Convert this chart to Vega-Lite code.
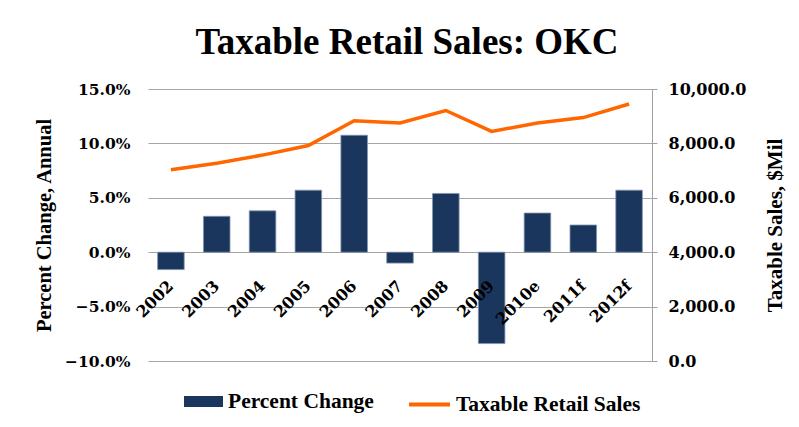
{
  "$schema": "https://vega.github.io/schema/vega-lite/v6.json",
  "width": 504,
  "height": 272,
  "autosize": {"type": "none"},
  "padding": {"left": 148, "top": 89, "right": 147, "bottom": 66},
  "background": "white",
  "title": {
    "text": "Taxable Retail Sales: OKC",
    "font": "Liberation Serif",
    "fontSize": 37,
    "fontWeight": "bold",
    "color": "black",
    "anchor": "middle",
    "frame": "group",
    "baseline": "alphabetic",
    "dx": 7,
    "offset": -10
  },
  "data": {
    "values": [
      {"year": "2002", "pct": -0.016, "sales": 7030},
      {"year": "2003", "pct": 0.033, "sales": 7270},
      {"year": "2004", "pct": 0.038, "sales": 7570},
      {"year": "2005", "pct": 0.057, "sales": 7920},
      {"year": "2006", "pct": 0.1075, "sales": 8830},
      {"year": "2007", "pct": -0.010, "sales": 8750},
      {"year": "2008", "pct": 0.054, "sales": 9210},
      {"year": "2009", "pct": -0.084, "sales": 8440},
      {"year": "2010e", "pct": 0.036, "sales": 8750},
      {"year": "2011f", "pct": 0.025, "sales": 8950},
      {"year": "2012f", "pct": 0.057, "sales": 9450}
    ]
  },
  "encoding": {
    "x": {
      "field": "year",
      "type": "nominal",
      "sort": null,
      "scale": {"paddingInner": 0.42, "paddingOuter": 0.21},
      "axis": {
        "title": null,
        "labelAngle": -45,
        "labelAlign": "right",
        "labelBaseline": "middle",
        "labelPadding": 31,
        "offset": -109,
        "domain": false,
        "ticks": false,
        "grid": false,
        "zindex": 2,
        "labelFont": "DejaVu Serif",
        "labelFontWeight": "bold",
        "labelFontSize": 16,
        "labelColor": "black"
      }
    }
  },
  "layer": [
    {
      "mark": {"type": "bar", "stroke": "#8497B0", "strokeWidth": 0.8},
      "encoding": {
        "y": {
          "field": "pct",
          "type": "quantitative",
          "scale": {"domain": [-0.1, 0.15], "nice": false, "zero": false},
          "axis": {
            "title": "Percent Change, Annual",
            "values": [-0.1, -0.05, 0, 0.05, 0.1, 0.15],
            "format": ".1%",
            "grid": true,
            "gridColor": "#A6A6A6",
            "gridWidth": 1,
            "domain": false,
            "ticks": false,
            "labelPadding": 18,
            "labelFont": "DejaVu Serif",
            "labelFontWeight": "bold",
            "labelFontSize": 15.5,
            "labelColor": "black",
            "titleFont": "Liberation Serif",
            "titleFontWeight": "bold",
            "titleFontSize": 20.5,
            "titleColor": "black",
            "titleAngle": 270,
            "titleAlign": "center",
            "titleBaseline": "middle",
            "titleX": -104
          }
        },
        "fill": {
          "datum": "Percent Change",
          "scale": {"domain": ["Percent Change"], "range": ["#1B365D"]},
          "legend": {
            "title": null,
            "orient": "none",
            "legendX": 36,
            "legendY": 293,
            "padding": 0,
            "symbolType": "M-1,-0.28H1V0.28H-1Z",
            "symbolSize": 1521,
            "symbolStrokeWidth": 0,
            "labelOffset": 5,
            "labelLimit": 0,
            "labelFont": "Liberation Serif",
            "labelFontWeight": "bold",
            "labelFontSize": 21.5,
            "labelColor": "black"
          }
        }
      }
    },
    {
      "mark": {"type": "line", "strokeWidth": 3.5},
      "encoding": {
        "y": {
          "field": "sales",
          "type": "quantitative",
          "scale": {"domain": [0, 10000], "nice": false},
          "axis": {
            "orient": "right",
            "title": "Taxable Sales, $Mil",
            "values": [0, 2000, 4000, 6000, 8000, 10000],
            "format": ",.1f",
            "grid": false,
            "domain": true,
            "domainColor": "#A0A0A0",
            "ticks": true,
            "tickColor": "#A0A0A0",
            "tickSize": 5,
            "labelPadding": 11,
            "labelFont": "DejaVu Serif",
            "labelFontWeight": "bold",
            "labelFontSize": 16,
            "labelColor": "black",
            "titleFont": "Liberation Serif",
            "titleFontWeight": "bold",
            "titleFontSize": 21,
            "titleColor": "black",
            "titleAngle": 270,
            "titleAlign": "center",
            "titleBaseline": "middle",
            "titleX": 123
          }
        },
        "stroke": {
          "datum": "Taxable Retail Sales",
          "scale": {"domain": ["Taxable Retail Sales"], "range": ["#FF6600"]},
          "legend": {
            "title": null,
            "orient": "none",
            "legendX": 259,
            "legendY": 293,
            "padding": 0,
            "symbolType": "stroke",
            "symbolSize": 1681,
            "symbolStrokeWidth": 4,
            "labelOffset": 4,
            "labelLimit": 0,
            "labelFont": "Liberation Serif",
            "labelFontWeight": "bold",
            "labelFontSize": 21.5,
            "labelColor": "black"
          }
        }
      }
    }
  ],
  "resolve": {"scale": {"y": "independent"}},
  "config": {"view": {"stroke": null}}
}
